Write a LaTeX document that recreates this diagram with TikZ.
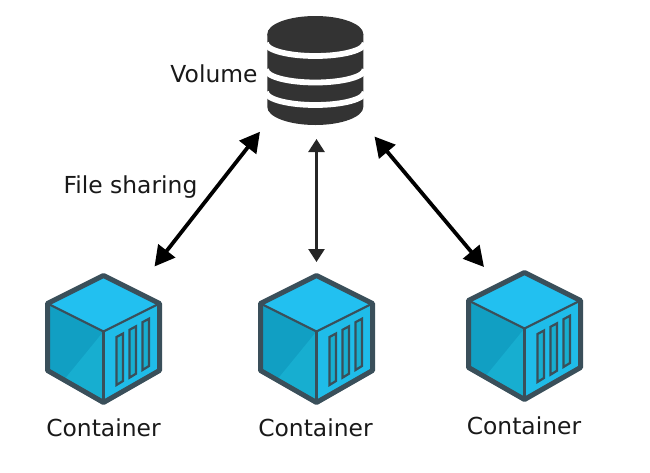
\documentclass[tikz,border=0pt]{standalone}
\usepackage{fontspec}
\setmainfont{DejaVu Sans}
\usetikzlibrary{arrows.meta}
\definecolor{cubeline}{HTML}{3A4F5A}
\definecolor{cubetop}{HTML}{22C0F0}
\definecolor{cubedark}{HTML}{119FC3}
\definecolor{cubemid}{HTML}{17AED0}
\definecolor{cuberight}{HTML}{1FBCE9}
\definecolor{drum}{HTML}{333333}
\tikzset{
  x=1pt,y=-1pt,
  label text/.style={font=\fontsize{23.4}{26}\selectfont,inner sep=0pt,text=black!90,anchor=base},
  share arrow/.style={{Triangle[length=20pt,width=21pt]}-{Triangle[length=20pt,width=21pt]},line width=3.8pt,black},
  thin arrow/.style={{Triangle[length=13pt,width=16pt]}-{Triangle[length=13pt,width=16pt]},line width=2.6pt,black!85},
  slat/.style={draw=cubeline,fill=cubemid,line width=2.2pt},
  cube/.pic={
    \fill[cubetop] (0,-56) -- (56,-28) -- (0,0) -- (-56,-28) -- cycle;
    \fill[cubedark] (-56,-28) -- (0,0) -- (0,71) -- (-56,39) -- cycle;
    \fill[cubemid] (0,0) -- (0,71) -- (-40,49) -- cycle;
    \fill[cuberight] (0,0) -- (56,-28) -- (56,39) -- (0,71) -- cycle;
    \draw[cubeline,line width=2.2pt] (-56,-28) -- (0,0) -- (56,-28);
    \draw[cubeline,line width=2.2pt] (0,0) -- (0,71);
    \draw[slat] (13,5.5) -- (19.5,2) -- (19.5,49.5) -- (13,53.5) -- cycle;
    \draw[slat] (26,-1.7) -- (32.5,-5.2) -- (32.5,42.2) -- (26,46.2) -- cycle;
    \draw[slat] (39,-9.3) -- (45.5,-12.8) -- (45.5,34.5) -- (39,38.5) -- cycle;
    \draw[cubeline,line width=5pt,line join=round] (0,-56) -- (56,-28) -- (56,39) -- (0,71) -- (-56,39) -- (-56,-28) -- cycle;
  }
}
\begin{document}
\begin{tikzpicture}
\useasboundingbox (0,0) rectangle (650,472);
% volume drum
\fill[drum] (267.3,34) arc[start angle=180,end angle=360,x radius=48,y radius=18]
  arc[start angle=0,end angle=180,x radius=48,y radius=18] -- cycle;
\fill[drum] (267.3,34) -- (267.3,107) arc[start angle=180,end angle=0,x radius=48,y radius=18] -- (363.3,34) -- cycle;
\foreach \cy in {43,69.5,92}
  \draw[white,line width=5.8pt] (266,\cy) arc[start angle=180,end angle=0,x radius=49.3,y radius=13];
% cubes
\pic at (103.5,331.5) {cube};
\pic at (316.5,331.5) {cube};
\pic at (524.5,328.5) {cube};
% labels
\node[label text] (volume) at (214,82) {Volume};
\node[label text] (sharing) at (130.5,193.5) {File sharing};
\node[label text] (c1) at (103.5,436) {Container};
\node[label text] (c2) at (315.5,436) {Container};
\node[label text] (c3) at (524,434) {Container};
% connector ends
\coordinate (a1) at (154.5,266.5);
\coordinate (b1) at (260,131.7);
\coordinate (a2) at (316.5,262);
\coordinate (b2) at (316.5,139);
\coordinate (a3) at (484,267);
\coordinate (b3) at (374.5,136.5);
\draw[share arrow] (a1) -- (b1);
\draw[thin arrow] (a2) -- (b2);
\draw[share arrow] (a3) -- (b3);
\end{tikzpicture}
\end{document}
